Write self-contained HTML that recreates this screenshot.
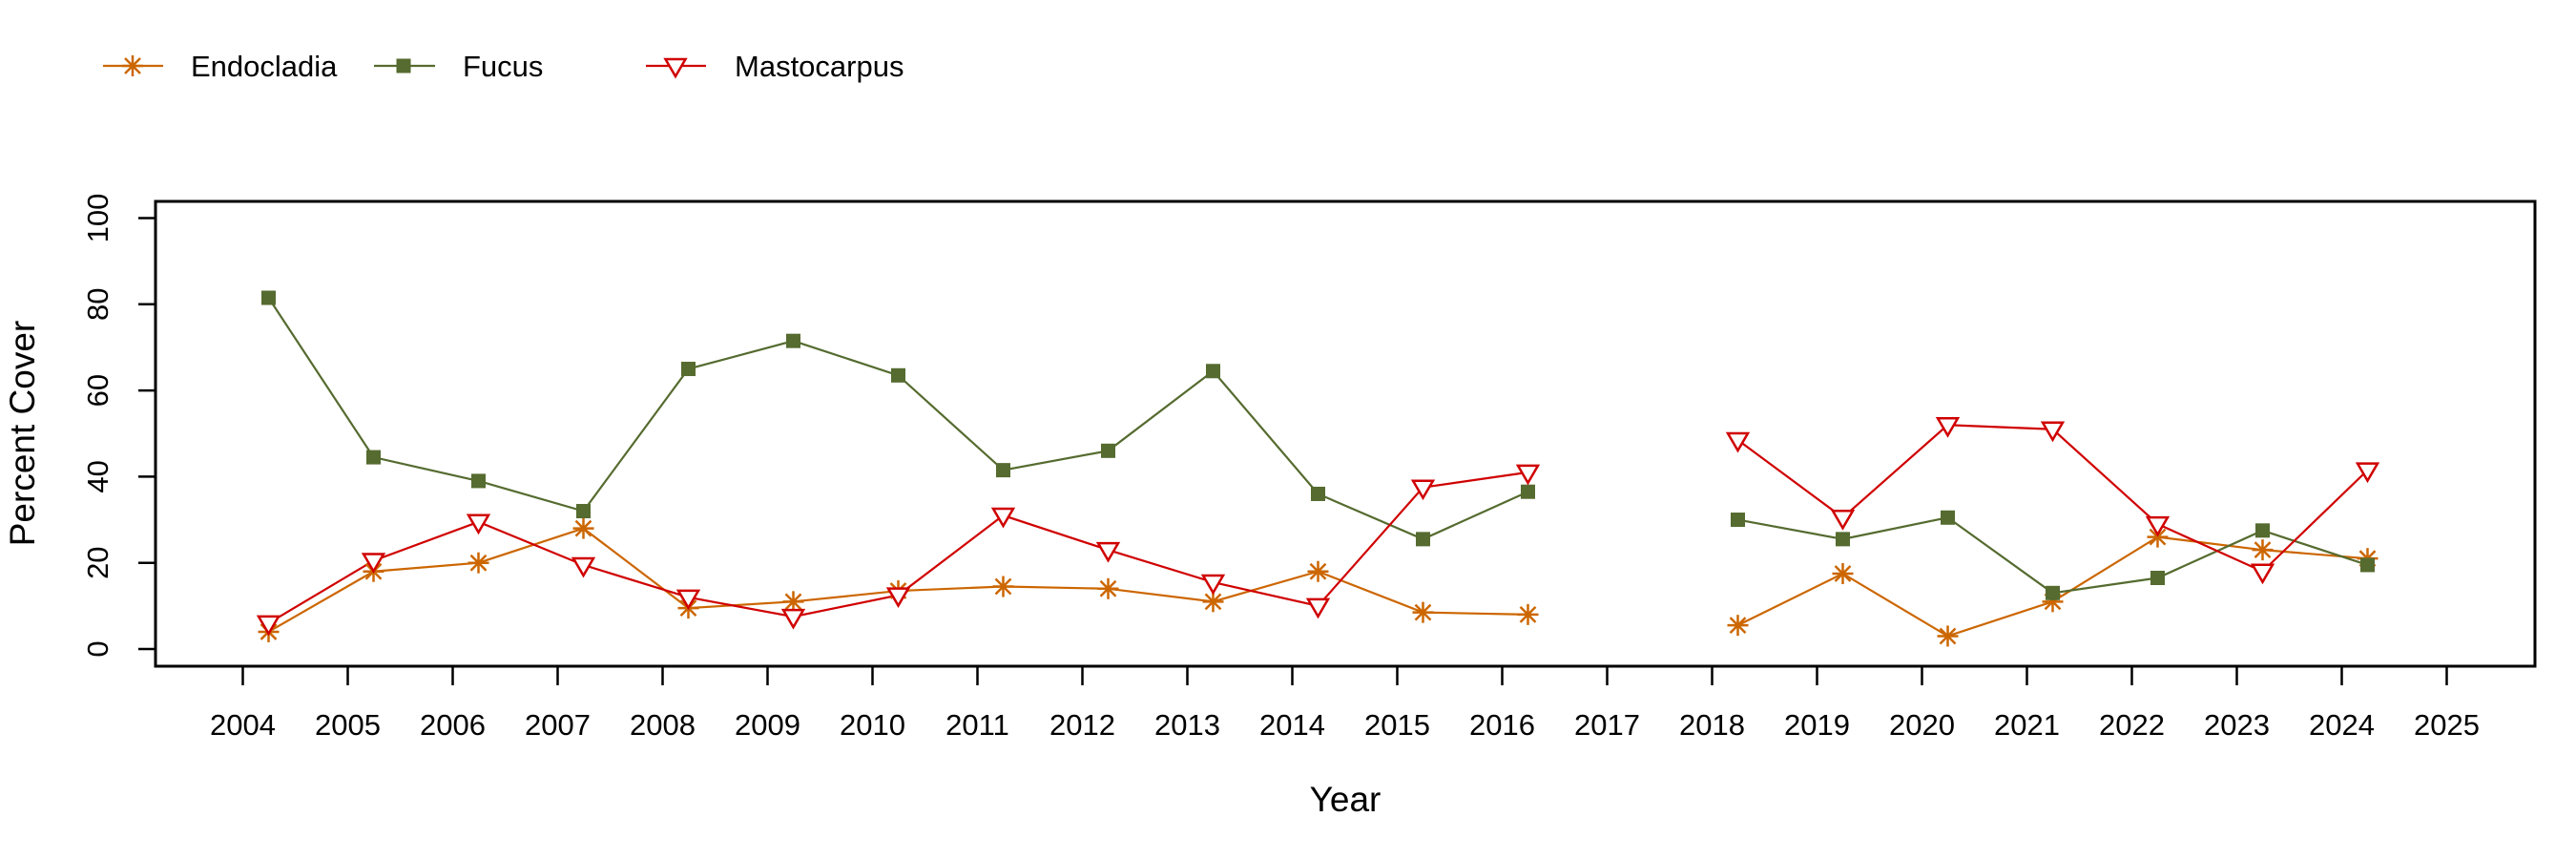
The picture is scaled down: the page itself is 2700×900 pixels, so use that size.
<!DOCTYPE html>
<html><head><meta charset="utf-8"><style>
html,body{margin:0;padding:0;background:#fff;}
svg{display:block;font-family:"Liberation Sans",Arial,sans-serif;}
</style></head><body>
<svg id="s" width="2700" height="900" viewBox="0 0 2700 900" xmlns="http://www.w3.org/2000/svg">
<rect width="2700" height="900" fill="#fff"/>
<rect x="163" y="211" width="2494" height="487" fill="none" stroke="#000" stroke-width="3"/>
<g stroke="#000" stroke-width="2.5" id="yt">
<line x1="145" y1="680" x2="163" y2="680"/><line x1="145" y1="589.7" x2="163" y2="589.7"/><line x1="145" y1="499.4" x2="163" y2="499.4"/><line x1="145" y1="409.1" x2="163" y2="409.1"/><line x1="145" y1="318.8" x2="163" y2="318.8"/><line x1="145" y1="228.5" x2="163" y2="228.5"/>
</g>
<g font-size="31" text-anchor="middle" fill="#000">
<text transform="translate(113,680) rotate(-90)">0</text>
<text transform="translate(113,589.7) rotate(-90)">20</text>
<text transform="translate(113,499.4) rotate(-90)">40</text>
<text transform="translate(113,409.1) rotate(-90)">60</text>
<text transform="translate(113,318.8) rotate(-90)">80</text>
<text transform="translate(113,228.5) rotate(-90)">100</text>
</g>
<g id="xt" stroke="#000" stroke-width="2.5"></g>
<g font-size="31" text-anchor="middle" fill="#000">
<text x="254.5" y="770">2004</text><text x="364.5" y="770">2005</text><text x="474.5" y="770">2006</text><text x="584.5" y="770">2007</text><text x="694.5" y="770">2008</text><text x="804.5" y="770">2009</text><text x="914.5" y="770">2010</text><text x="1024.5" y="770">2011</text><text x="1134.5" y="770">2012</text><text x="1244.5" y="770">2013</text><text x="1354.5" y="770">2014</text><text x="1464.5" y="770">2015</text><text x="1574.5" y="770">2016</text><text x="1684.5" y="770">2017</text><text x="1794.5" y="770">2018</text><text x="1904.5" y="770">2019</text><text x="2014.5" y="770">2020</text><text x="2124.5" y="770">2021</text><text x="2234.5" y="770">2022</text><text x="2344.5" y="770">2023</text><text x="2454.5" y="770">2024</text><text x="2564.5" y="770">2025</text>
</g>
<text x="1410" y="850" font-size="37" text-anchor="middle">Year</text>
<text transform="translate(36,454) rotate(-90)" font-size="37" text-anchor="middle">Percent Cover</text>
<g font-size="31" fill="#000">
<text x="200" y="80">Endocladia</text>
<text x="485" y="80">Fucus</text>
<text x="770" y="80">Mastocarpus</text>
</g>
<g id="leg"></g>
<g id="data"></g>
</svg>
<script>
var NS="http://www.w3.org/2000/svg";
function el(p,t,a){var e=document.createElementNS(NS,t);for(var k in a)e.setAttribute(k,a[k]);p.appendChild(e);return e;}
var xt=document.getElementById('xt');
for(var i=0;i<22;i++){var x=254.5+110*i;el(xt,'line',{x1:x,y1:698,x2:x,y2:718});}
var OR="#CC6600",GR="#556B2F",RD="#D00000";
function mk(g,type,x,y,c){
 if(type==0){var r=11;el(g,'line',{x1:x-r,y1:y,x2:x+r,y2:y,stroke:c,'stroke-width':2.5});el(g,'line',{x1:x,y1:y-r,x2:x,y2:y+r,stroke:c,'stroke-width':2.5});
  var d=8;el(g,'line',{x1:x-d,y1:y-d,x2:x+d,y2:y+d,stroke:c,'stroke-width':2.5});el(g,'line',{x1:x-d,y1:y+d,x2:x+d,y2:y-d,stroke:c,'stroke-width':2.5});}
 else if(type==1){el(g,'rect',{x:x-7.5,y:y-7.5,width:15,height:15,fill:c});}
 else{el(g,'polygon',{points:(x-10.5)+','+(y-7)+' '+(x+10.5)+','+(y-7)+' '+x+','+(y+11),fill:'#fff',stroke:c,'stroke-width':2.5});}
}
var yrs1=[2004,2005,2006,2007,2008,2009,2010,2011,2012,2013,2014,2015,2016],yrs2=[2018,2019,2020,2021,2022,2023,2024];
var S=[
 {c:OR,t:0,a:[4,18,20,28,9.5,11,13.5,14.5,14,11,18,8.5,8],b:[5.5,17.5,3,11,26,23,21]},
 {c:GR,t:1,a:[81.5,44.5,39,32,65,71.5,63.5,41.5,46,64.5,36,25.5,36.5],b:[30,25.5,30.5,13,16.5,27.5,19.5]},
 {c:RD,t:2,a:[6,20.5,29.5,19.5,12,7.5,12.5,31,23,15.5,10,37.5,41],b:[48.5,30.5,52,51,29,18,41.5]}
];
function X(y){return 254.5+110*(y-2004)+27;}function Y(v){return 680-4.515*v;}
var g=document.getElementById('data');
S.forEach(function(s){
 [[yrs1,s.a],[yrs2,s.b]].forEach(function(p){
  var pts=p[0].map(function(y,i){return X(y)+','+Y(p[1][i]);}).join(' ');
  el(g,'polyline',{points:pts,fill:'none',stroke:s.c,'stroke-width':2.2});
 });
});
S.forEach(function(s){
 [[yrs1,s.a],[yrs2,s.b]].forEach(function(p){p[0].forEach(function(y,i){mk(g,s.t,X(y),Y(p[1][i]),s.c);});});
});
var L=document.getElementById('leg');
[[108,171,139],[392,456,423],[677,740,708]].forEach(function(q,i){
 el(L,'line',{x1:q[0],y1:69,x2:q[1],y2:69,stroke:S[i].c,'stroke-width':2.2});mk(L,S[i].t,q[2],69,S[i].c);
});
</script>
</body></html>
